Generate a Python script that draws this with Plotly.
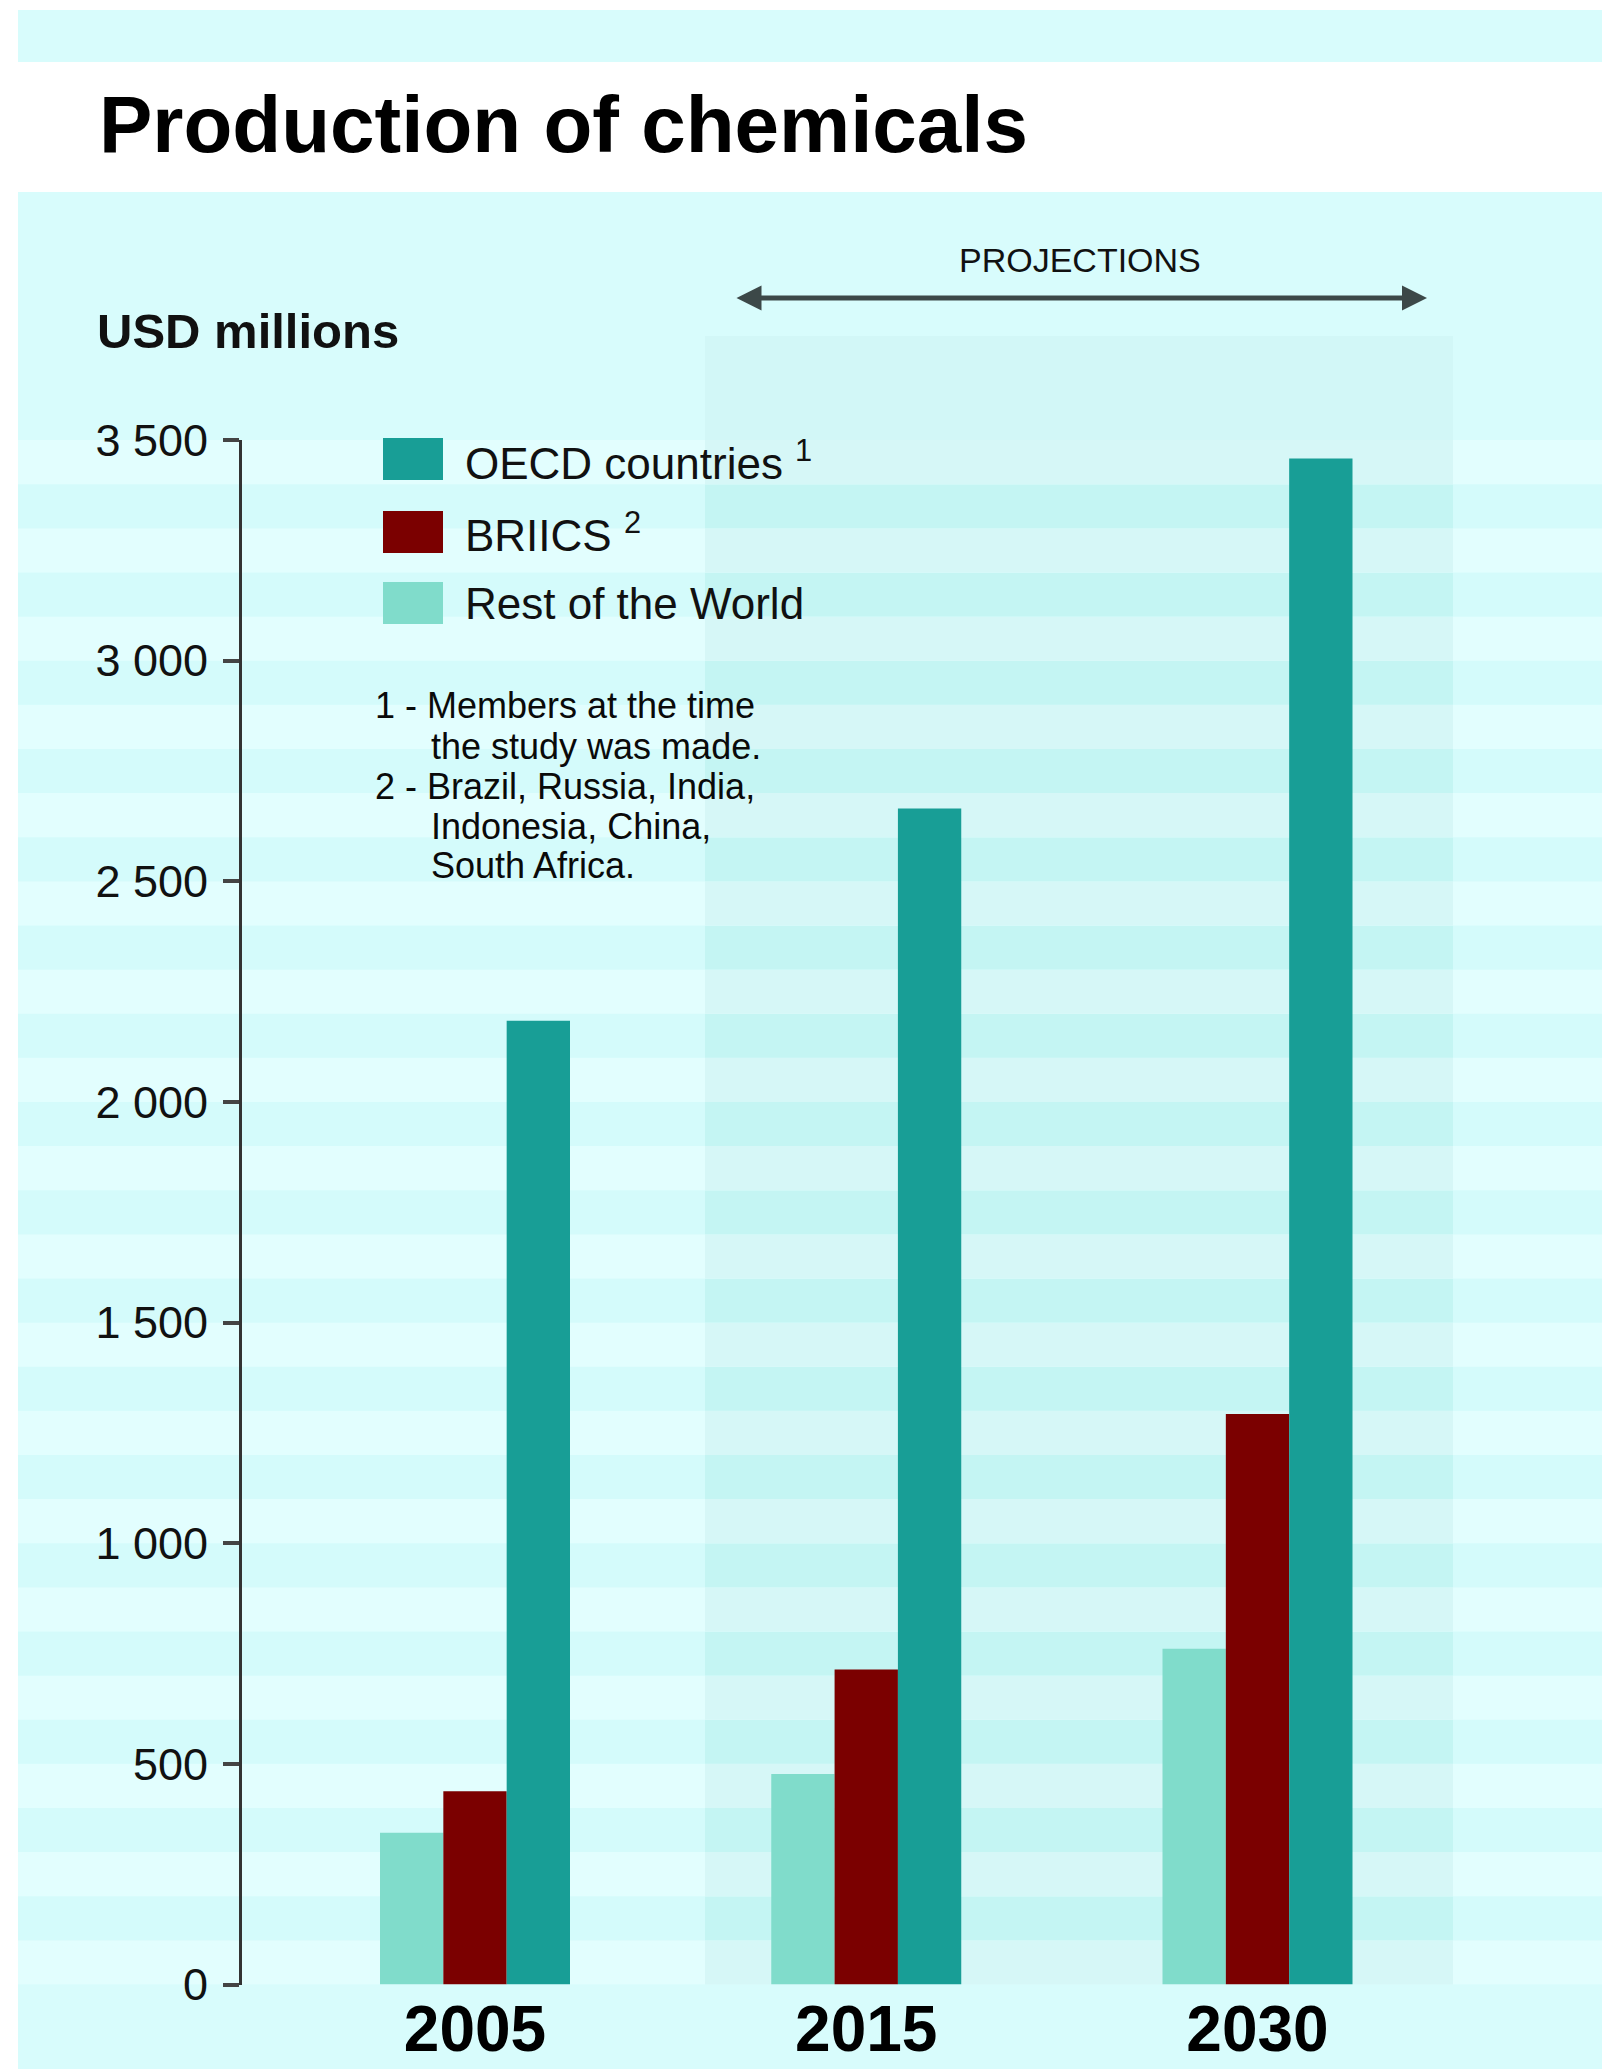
import plotly.graph_objects as go

# ---------------- data ----------------
years = ["2005", "2015", "2030"]
rest_of_world = [344, 477, 761]
briics = [438, 714, 1293]
oecd = [2184, 2665, 3458]

series_names = ["Rest of the World", "BRIICS", "OECD countries"]
series_colors = ["#80dccb", "#7b0000", "#189e96"]

y_tickvals = [0, 500, 1000, 1500, 2000, 2500, 3000, 3500]
y_ticktext = ["0", "500", "1 000", "1 500", "2 000", "2 500", "3 000", "3 500"]

legend_labels = ["OECD countries <sup>1</sup>", "BRIICS <sup>2</sup>", "Rest of the World"]
legend_colors = ["#189e96", "#7b0000", "#80dccb"]

footnotes = [
    ("1 - Members at the time", False),
    ("the study was made.", True),
    ("2 - Brazil, Russia, India,", False),
    ("Indonesia, China,", True),
    ("South Africa.", True),
]

stripe_step = 100
y_max = 3500

# ---------------- layout helpers ----------------
W, H = 1602, 2069
FONT = "Liberation Sans, Arial, Helvetica, sans-serif"


def px(x):
    return x / W


def py(y):
    return 1 - y / H


cyan = "#d8fcfc"
stripe_light = "#e2fefe"
stripe_dark = "#d4fbfb"
proj_light = "#d6f7f7"
proj_dark = "#c4f5f3"
proj_top = "#d2f7f7"

proj_x0, proj_x1 = px(705), px(1453)

fig = go.Figure()

for name, vals, col in zip(series_names, [rest_of_world, briics, oecd], series_colors):
    fig.add_trace(go.Bar(x=years, y=vals, name=name, marker=dict(color=col, line=dict(width=0)),
                         showlegend=False))

shapes = []
# top band
shapes.append(dict(type="rect", xref="paper", yref="paper", x0=px(18), x1=1, y0=py(62), y1=py(10),
                   fillcolor=cyan, line=dict(width=0), layer="below"))
# main panel
shapes.append(dict(type="rect", xref="paper", yref="paper", x0=px(18), x1=1, y0=0, y1=py(192),
                   fillcolor=cyan, line=dict(width=0), layer="below"))
# projection region (upper part)
shapes.append(dict(type="rect", xref="paper", yref="paper", x0=proj_x0, x1=proj_x1, y0=py(1984.5), y1=py(336),
                   fillcolor=proj_top, line=dict(width=0), layer="below"))
# stripes
n_bands = int(y_max / stripe_step)
for k in range(n_bands):
    light = (k % 2 == 0)
    shapes.append(dict(type="rect", xref="paper", yref="y", x0=px(18), x1=1,
                       y0=k * stripe_step, y1=(k + 1) * stripe_step,
                       fillcolor=stripe_light if light else stripe_dark, line=dict(width=0), layer="below"))
    shapes.append(dict(type="rect", xref="paper", yref="y", x0=proj_x0, x1=proj_x1,
                       y0=k * stripe_step, y1=(k + 1) * stripe_step,
                       fillcolor=proj_light if light else proj_dark, line=dict(width=0), layer="below"))

# legend swatches
sw_tops = [438, 511, 582]
for top, col in zip(sw_tops, legend_colors):
    shapes.append(dict(type="rect", xref="paper", yref="paper", x0=px(383), x1=px(443),
                       y0=py(top + 42), y1=py(top), fillcolor=col, line=dict(width=0), layer="above"))

annotations = []
annotations.append(dict(text="<b>Production of chemicals</b>", x=px(97), y=py(124), xref="paper", yref="paper",
                        xanchor="left", yanchor="middle", showarrow=False,
                        font=dict(size=80, color="#000000", family=FONT)))
annotations.append(dict(text="<b>USD millions</b>", x=px(95), y=py(331), xref="paper", yref="paper",
                        xanchor="left", yanchor="middle", showarrow=False,
                        font=dict(size=49, color="#111111", family=FONT)))
annotations.append(dict(text="PROJECTIONS", x=px(1080), y=py(260), xref="paper", yref="paper",
                        xanchor="center", yanchor="middle", showarrow=False,
                        font=dict(size=34, color="#111111", family=FONT)))
# projection arrow
annotations.append(dict(text="", x=px(1427), y=py(298), xref="paper", yref="paper",
                        ax=-(1427 - 735), ay=0, axref="pixel", ayref="pixel",
                        showarrow=True, arrowhead=2, startarrowhead=2, arrowside="end+start",
                        arrowwidth=5, arrowsize=1, startarrowsize=1, arrowcolor="#3c4848",
                        standoff=0, startstandoff=0))
# legend labels
for top, lab in zip(sw_tops, legend_labels):
    annotations.append(dict(text=lab, x=px(463), y=py(top + 22), xref="paper", yref="paper",
                            xanchor="left", yanchor="middle", showarrow=False,
                            font=dict(size=44, color="#111111", family=FONT)))
# footnotes
fn_centers = [706, 746, 786, 826, 865]
for (txt, indent), yc in zip(footnotes, fn_centers):
    annotations.append(dict(text=txt, x=px(429 if indent else 373), y=py(yc), xref="paper", yref="paper",
                            xanchor="left", yanchor="middle", showarrow=False,
                            font=dict(size=36, color="#0a0a0a", family=FONT)))

unit = 391.25
r0 = -(475 - 242) / unit
r1 = r0 + (W - 242) / unit

fig.update_layout(
    width=W, height=H,
    autosize=False,
    margin=dict(l=0, r=0, t=0, b=0, pad=0, autoexpand=False),
    paper_bgcolor="#ffffff",
    plot_bgcolor="rgba(0,0,0,0)",
    font=dict(family=FONT, color="#111111"),
    barmode="group",
    bargap=1 - 190 / unit,
    bargroupgap=0,
    showlegend=False,
    shapes=shapes,
    annotations=annotations,
    xaxis=dict(domain=[px(242), 1], type="category", range=[r0, r1], automargin=False,
               showgrid=False, zeroline=False, showline=False, ticks="",
               tickfont=dict(size=64, color="#000000", family=FONT, weight="bold"),
               ticklabelstandoff=1, fixedrange=True),
    yaxis=dict(domain=[py(1984.5), py(440)], range=[0, y_max], automargin=False,
               tickvals=y_tickvals, ticktext=y_ticktext,
               showgrid=False, zeroline=False, showline=True, linecolor="#333333", linewidth=3,
               ticks="outside", ticklen=16, tickwidth=4, tickcolor="#444444",
               tickfont=dict(size=45, color="#111111", family=FONT),
               ticklabelstandoff=6, fixedrange=True),
)

fig.write_html("out.html", config={"displayModeBar": False})
